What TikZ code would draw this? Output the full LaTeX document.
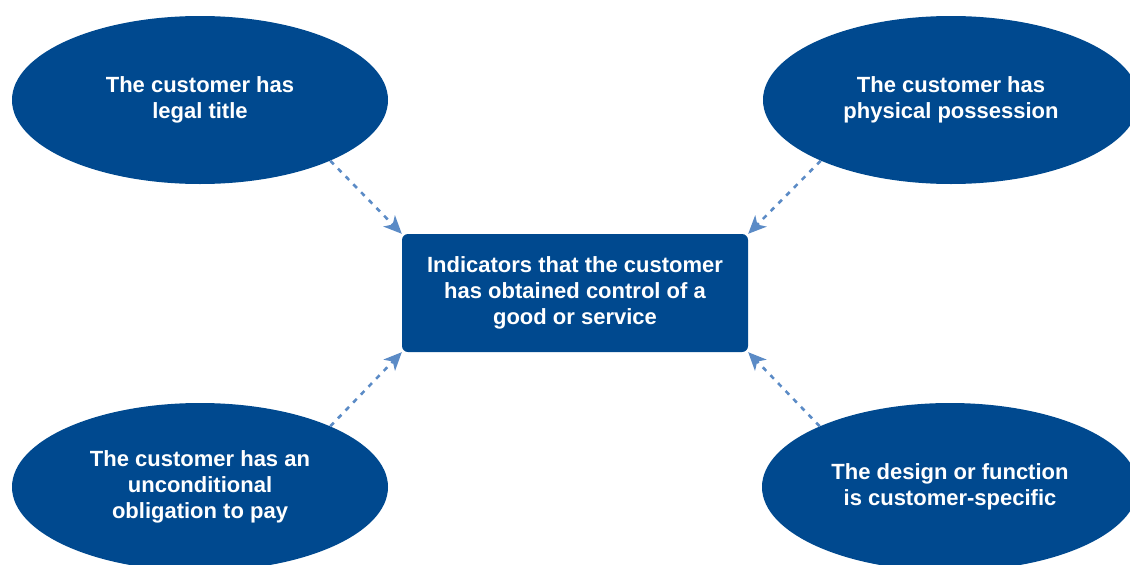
\documentclass[tikz,border=0pt]{standalone}
\usepackage{fontspec}
\setmainfont{Liberation Sans}
\usepackage{tikz}
\usetikzlibrary{shapes.geometric,arrows.meta}
\definecolor{kblue}{HTML}{00498F}
\definecolor{karrow}{HTML}{5B8BC6}
\tikzset{
  crit/.style={ellipse,fill=kblue,text=white,minimum width=376pt,minimum height=168pt,inner sep=0pt,align=center,font=\bfseries\fontsize{22}{26}\selectfont},
  indbox/.style={rectangle,rounded corners=6pt,fill=kblue,text=white,minimum width=346pt,minimum height=118pt,align=center,font=\bfseries\fontsize{22}{26}\selectfont},
  link/.style={karrow,line width=2.6pt,dash pattern=on 5pt off 6pt,-{Stealth[length=18pt,width=16pt,inset=5pt]}}
}

\begin{document}
\begin{tikzpicture}[x=1pt,y=-1pt]
\clip (0,0) rectangle (1130,565);
\node[indbox] (ind) at (575,293) {Indicators that the customer\\has obtained control of a\\good or service};
\node[crit] (title) at (200,100) {The customer has\\legal title};
\node[crit] (poss) at (951,100) {The customer has\\physical possession};
\node[crit] (pay) at (200,487) {The customer has an\\unconditional\\obligation to pay};
\node[crit] (design) at (950,487) {The design or function\\is customer-specific};
\draw[link] (title.-25) -- (ind.north west);
\draw[link] (poss.-155) -- (ind.north east);
\draw[link] (pay.25) -- (ind.south west);
\draw[link] (design.155) -- (ind.south east);
\end{tikzpicture}
\end{document}
